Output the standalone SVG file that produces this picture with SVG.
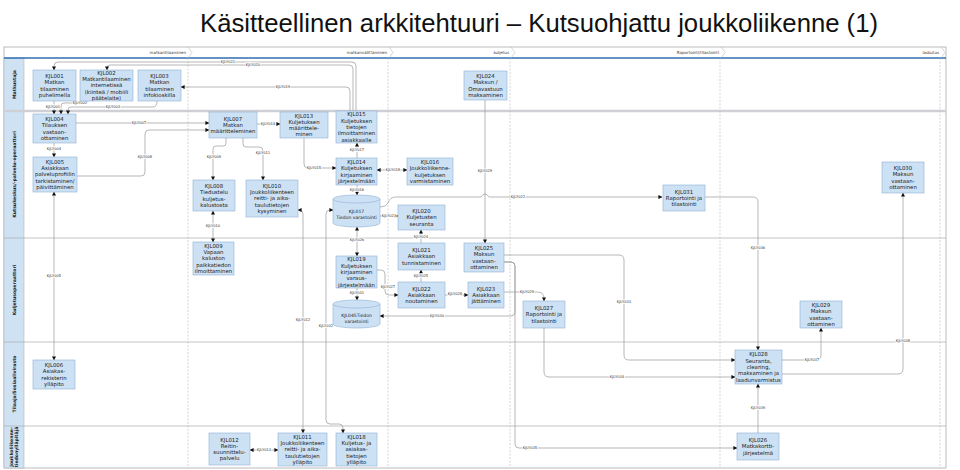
<svg xmlns="http://www.w3.org/2000/svg" width="960" height="470" viewBox="0 0 960 470">
<style>
.nd{fill:#cde1f5;stroke:#8fb0d4;stroke-width:0.6}
.nt{font-family:"DejaVu Sans",Verdana,sans-serif;font-size:5.4px;fill:#1a1a1a;text-anchor:middle}
.ct{font-family:"DejaVu Sans",Verdana,sans-serif;font-size:4.5px;fill:#1a1a1a;text-anchor:middle}
.cn{fill:none;stroke:#9a9a9a;stroke-width:0.7}
.cl{font-family:"DejaVu Sans",Verdana,sans-serif;font-size:3.7px;fill:#333;text-anchor:middle;stroke:#fff;stroke-width:1.6;paint-order:stroke}
.ph{font-family:"DejaVu Sans",Verdana,sans-serif;font-size:4px;fill:#333;text-anchor:end}
.ln{font-family:"DejaVu Sans",Verdana,sans-serif;font-size:4.6px;font-weight:bold;fill:#222;text-anchor:middle}
.dash{stroke:#bbb;stroke-width:0.6;stroke-dasharray:2 1.5}
</style>
<defs>
<marker id="ar" markerUnits="userSpaceOnUse" markerWidth="4" markerHeight="4" refX="3.6" refY="2" orient="auto-start-reverse"><path d="M0,0 L4,2 L0,4 z" fill="#111"/></marker>
</defs>
<rect width="960" height="470" fill="#fff"/>
<text x="539" y="32" font-family="Liberation Sans, Arial, sans-serif" font-size="25" fill="#111" text-anchor="middle" textLength="678" lengthAdjust="spacingAndGlyphs">Käsitteellinen arkkitehtuuri – Kutsuohjattu joukkoliikenne (1)</text>
<g id="frame">
<rect x="4" y="47" width="942" height="421" fill="none" stroke="#aaa" stroke-width="0.8"/>
<rect x="4" y="58" width="20" height="410" fill="#cfe2f3" stroke="#aaa" stroke-width="0.5"/>
<line x1="4" y1="58" x2="946" y2="58" stroke="#2f6fb0" stroke-width="1.4"/>
<line x1="4" y1="111" x2="946" y2="111" stroke="#cfd0d6" stroke-width="2.4"/>
<line x1="4" y1="238" x2="946" y2="238" stroke="#aaa" stroke-width="0.7"/>
<line x1="4" y1="342" x2="946" y2="342" stroke="#aaa" stroke-width="0.7"/>
<line x1="4" y1="426" x2="946" y2="426" stroke="#aaa" stroke-width="0.7"/>
<line class="dash" x1="188" y1="58" x2="188" y2="468"/>
<line class="dash" x1="388" y1="58" x2="388" y2="468"/>
<line class="dash" x1="510" y1="58" x2="510" y2="468"/>
<line class="dash" x1="720" y1="58" x2="720" y2="468"/>
<line class="dash" x1="940" y1="58" x2="940" y2="468"/>
<g fill="none" stroke="#bbb" stroke-width="0.6">
<path d="M188 47 L192 52.5 L188 58"/><path d="M389 47 L393 52.5 L389 58"/><path d="M511 47 L515 52.5 L511 58"/><path d="M721 47 L725 52.5 L721 58"/><path d="M941 47 L945 52.5 L941 58"/>
</g>
<text class="ph" x="186" y="54">matkantilaaminen</text>
<text class="ph" x="387" y="54">matkanvälittäminen</text>
<text class="ph" x="509" y="54">kuljetus</text>
<text class="ph" x="719" y="54">Raportointi/tilastointi</text>
<text class="ph" x="939" y="54">laskutus</text>
<text class="ln" transform="translate(15.5 84.5) rotate(-90)">Matkustaja</text>
<text class="ln" transform="translate(15.5 174.5) rotate(-90)">Kutsukeskus/-palvelu-operaattori</text>
<text class="ln" transform="translate(15.5 290) rotate(-90)">Kuljetusoperaattori</text>
<text class="ln" transform="translate(15.5 384) rotate(-90)">Tilaaja/Sosiaalivirasto</text>
<text class="ln" transform="translate(12.5 447) rotate(-90)">Joukkoliikenne-<tspan x="0" dy="5">tiedonylläpitäjä</tspan></text>
</g>
<g id="connectors">
<path class="cn" marker-end="url(#ar)" d="M54 101 V114"/>
<path class="cn" marker-end="url(#ar)" d="M88 101 Q88 103 85 103 H64 Q61 103 61 106 V114"/>
<path class="cn" marker-end="url(#ar)" d="M157 101 Q157 107 153 107 H71 Q68 107 68 110 V114"/>
<path class="cn" marker-end="url(#ar)" d="M356 111 V66 Q356 62 352 62 H58 Q54 62 54 66 V70"/>
<path class="cn" marker-end="url(#ar)" d="M353 111 V69 Q353 65 349 65 H110 Q107 65 107 68 V70"/>
<path class="cn" marker-end="url(#ar)" d="M350 111 V91 Q350 87 346 87 H181"/>
<path class="cn" marker-end="url(#ar)" d="M54 143 V157"/>
<path class="cn" marker-start="url(#ar)" marker-end="url(#ar)" d="M54 192 V360"/>
<path class="cn" marker-end="url(#ar)" d="M76 123 H209"/>
<path class="cn" marker-end="url(#ar)" d="M77 176 H141 Q145 176 145 172 V134 Q145 130 149 130 H209"/>
<path class="cn" marker-end="url(#ar)" d="M226 138 V143 Q226 146 223 146 H216 Q213 146 213 149 V180"/>
<path class="cn" marker-start="url(#ar)" marker-end="url(#ar)" d="M213 211 V242"/>
<path class="cn" marker-end="url(#ar)" d="M243 138 V144 Q243 147 246 147 H259 Q263 147 263 151 V180"/>
<path class="cn" marker-end="url(#ar)" d="M257 124 H280"/>
<path class="cn" marker-end="url(#ar)" d="M304 138 V164 Q304 168 308 168 H336"/>
<path class="cn" marker-end="url(#ar)" d="M357 158 V143"/>
<path class="cn" marker-start="url(#ar)" marker-end="url(#ar)" d="M377 170 H407"/>
<path class="cn" marker-end="url(#ar)" d="M357 185 V195"/>
<path class="cn" marker-start="url(#ar)" marker-end="url(#ar)" d="M298 210 H299 Q303 210 303 214 V433"/>
<path class="cn" marker-start="url(#ar)" marker-end="url(#ar)" d="M333 210 H330 Q326 210 326 214 V420 Q326 424 330 424 H339 Q343 424 343 428 V433"/>
<path class="cn" marker-end="url(#ar)" d="M380 216 H398"/>
<path class="cn" marker-end="url(#ar)" d="M380 207 Q386 207 388 203 Q390 197 396 197 H481 Q485 191 489 197 H662"/>
<path class="cn" marker-end="url(#ar)" d="M421 243 V230"/>
<path class="cn" marker-end="url(#ar)" d="M421 282 V270"/>
<path class="cn" marker-start="url(#ar)" marker-end="url(#ar)" d="M357 227 V256"/>
<path class="cn" marker-end="url(#ar)" d="M377 270 H381 Q385 270 385 274 V291 Q385 295 389 295 H398"/>
<path class="cn" marker-end="url(#ar)" d="M357 288 V300"/>
<path class="cn" marker-end="url(#ar)" d="M445 295 H468"/>
<path class="cn" marker-end="url(#ar)" d="M485 100 V243"/>
<path class="cn" marker-end="url(#ar)" d="M504 292 H537 Q544 292 544 298 V301"/>
<path class="cn" marker-end="url(#ar)" d="M504 262 H511 Q515 262 515 266 V312 Q515 316 511 316 H380"/>
<path class="cn" marker-end="url(#ar)" d="M504 262 H511 Q515 262 515 266 V444 Q515 448 519 448 H737"/>
<path class="cn" marker-end="url(#ar)" d="M504 255 H619 Q624 255 624 260 V355 Q624 360 629 360 H735"/>
<path class="cn" marker-end="url(#ar)" d="M544 328 V372 Q544 377 549 377 H735"/>
<path class="cn" marker-end="url(#ar)" d="M705 197 H753 Q758 197 758 202 V350"/>
<path class="cn" marker-end="url(#ar)" d="M782 360 H816 Q821 360 821 355 V328"/>
<path class="cn" marker-end="url(#ar)" d="M782 374 H898 Q903 374 903 369 V193"/>
<path class="cn" marker-end="url(#ar)" d="M758 433 V384"/>
<path class="cn" marker-start="url(#ar)" marker-end="url(#ar)" d="M278 450 H250"/>
<text class="cl" x="53" y="108.3">KJLY001</text>
<text class="cl" x="80" y="104">KJLY002</text>
<text class="cl" x="113" y="108.3">KJLY003</text>
<text class="cl" x="228" y="63.3">KJLY021</text>
<text class="cl" x="253" y="66.3">KJLY020</text>
<text class="cl" x="283" y="88.3">KJLY019</text>
<text class="cl" x="54" y="150.3">KJLY004</text>
<text class="cl" x="54" y="277.3">KJLY005</text>
<text class="cl" x="139" y="124.3">KJLY007</text>
<text class="cl" x="145" y="158.3">KJLY008</text>
<text class="cl" x="214" y="158.3">KJLY009</text>
<text class="cl" x="213" y="227.3">KJLY010</text>
<text class="cl" x="263" y="154.3">KJLY011</text>
<text class="cl" x="268" y="125.3">KJLY014</text>
<text class="cl" x="314" y="169.3">KJLY015</text>
<text class="cl" x="357" y="151.3">KJLY017</text>
<text class="cl" x="393" y="171.3">KJLY018</text>
<text class="cl" x="357" y="191.3">KJLY016</text>
<text class="cl" x="303" y="321.3">KJLY012</text>
<text class="cl" x="326" y="327.3">KJLY032</text>
<text class="cl" x="389" y="217.3">KJLY023</text>
<text class="cl" x="518" y="198.3">KJLY022</text>
<text class="cl" x="421" y="238.3">KJLY024</text>
<text class="cl" x="421" y="277.3">KJLY025</text>
<text class="cl" x="357" y="241.3">KJLY026</text>
<text class="cl" x="388" y="288.3">KJLY027</text>
<text class="cl" x="357" y="294.3">KJLY031</text>
<text class="cl" x="455" y="295.3">KJLY028</text>
<text class="cl" x="485" y="172.3">KJLY029</text>
<text class="cl" x="527" y="293.3">KJLY029</text>
<text class="cl" x="437" y="317.3">KJLY030</text>
<text class="cl" x="530" y="449.3">KJLY035</text>
<text class="cl" x="624" y="303.3">KJLY033</text>
<text class="cl" x="617" y="378.3">KJLY034</text>
<text class="cl" x="758" y="249.3">KJLY036</text>
<text class="cl" x="812" y="361.3">KJLY037</text>
<text class="cl" x="903" y="342.3">KJLY038</text>
<text class="cl" x="758" y="409.3">KJLY039</text>
<text class="cl" x="264" y="451.3">KJLY013</text>
</g>
<g id="KJL001"><rect class="nd" x="33" y="70" width="43" height="31"/><text class="nt" x="54.5" y="78">KJL001<tspan x="54.5" dy="6.3">Matkan</tspan><tspan x="54.5" dy="6.3">tilaaminen</tspan><tspan x="54.5" dy="6.3">puhelimella</tspan></text></g>
<g id="KJL002"><rect class="nd" x="80" y="70" width="53" height="31"/><text class="nt" x="106.5" y="74.8">KJL002<tspan x="106.5" dy="6.3">Matkantilaaminen</tspan><tspan x="106.5" dy="6.3">internetissä</tspan><tspan x="106.5" dy="6.3">(kiinteä / mobiili</tspan><tspan x="106.5" dy="6.3">päätelaite)</tspan></text></g>
<g id="KJL003"><rect class="nd" x="138" y="70" width="43" height="31"/><text class="nt" x="159.5" y="78">KJL003<tspan x="159.5" dy="6.3">Matkan</tspan><tspan x="159.5" dy="6.3">tilaaminen</tspan><tspan x="159.5" dy="6.3">infokioskilla</tspan></text></g>
<g id="KJL024"><rect class="nd" x="464" y="71" width="43" height="29"/><text class="nt" x="485.5" y="78">KJL024<tspan x="485.5" dy="6.3">Maksun /</tspan><tspan x="485.5" dy="6.3">Omavastuun</tspan><tspan x="485.5" dy="6.3">maksaminen</tspan></text></g>
<g id="KJL004"><rect class="nd" x="33" y="114" width="43" height="29"/><text class="nt" x="54.5" y="121">KJL004<tspan x="54.5" dy="6.3">Tilauksen</tspan><tspan x="54.5" dy="6.3">vastaan-</tspan><tspan x="54.5" dy="6.3">ottaminen</tspan></text></g>
<g id="KJL005"><rect class="nd" x="33" y="157" width="44" height="35"/><text class="nt" x="55" y="163.8">KJL005<tspan x="55" dy="6.3">Asiakkaan</tspan><tspan x="55" dy="6.3">palveluprofiilin</tspan><tspan x="55" dy="6.3">tarkistaminen/</tspan><tspan x="55" dy="6.3">päivittäminen</tspan></text></g>
<g id="KJL006"><rect class="nd" x="33" y="360" width="42" height="29"/><text class="nt" x="54" y="367">KJL006<tspan x="54" dy="6.3">Asiakas-</tspan><tspan x="54" dy="6.3">rekisterin</tspan><tspan x="54" dy="6.3">ylläpito</tspan></text></g>
<g id="KJL007"><rect class="nd" x="209" y="112" width="48" height="26"/><text class="nt" x="233" y="120.6">KJL007<tspan x="233" dy="6.3">Matkan</tspan><tspan x="233" dy="6.3">määritteleminen</tspan></text></g>
<g id="KJL008"><rect class="nd" x="193" y="180" width="42" height="31"/><text class="nt" x="214" y="188">KJL008<tspan x="214" dy="6.3">Tiedustelu</tspan><tspan x="214" dy="6.3">kuljetus-</tspan><tspan x="214" dy="6.3">kalustosta</tspan></text></g>
<g id="KJL009"><rect class="nd" x="193" y="242" width="41" height="33"/><text class="nt" x="213.5" y="247.8">KJL009<tspan x="213.5" dy="6.3">Vapaan</tspan><tspan x="213.5" dy="6.3">kaluston</tspan><tspan x="213.5" dy="6.3">paikkatiedon</tspan><tspan x="213.5" dy="6.3">ilmoittaminen</tspan></text></g>
<g id="KJL010"><rect class="nd" x="246" y="180" width="52" height="37"/><text class="nt" x="272" y="187.8">KJL010<tspan x="272" dy="6.3">Joukkoliikenteen</tspan><tspan x="272" dy="6.3">reitti- ja aika-</tspan><tspan x="272" dy="6.3">taulutietojen</tspan><tspan x="272" dy="6.3">kysyminen</tspan></text></g>
<g id="KJL011"><rect class="nd" x="278" y="433" width="49" height="33"/><text class="nt" x="302.5" y="438.8">KJL011<tspan x="302.5" dy="6.3">Joukkoliikenteen</tspan><tspan x="302.5" dy="6.3">reitti- ja aika-</tspan><tspan x="302.5" dy="6.3">taulutietojen</tspan><tspan x="302.5" dy="6.3">ylläpito</tspan></text></g>
<g id="KJL012"><rect class="nd" x="209" y="433" width="41" height="32"/><text class="nt" x="229.5" y="441.5">KJL012<tspan x="229.5" dy="6.3">Reitin-</tspan><tspan x="229.5" dy="6.3">suunnittelu-</tspan><tspan x="229.5" dy="6.3">palvelu</tspan></text></g>
<g id="KJL013"><rect class="nd" x="280" y="112" width="48" height="26"/><text class="nt" x="304" y="117.5">KJL013<tspan x="304" dy="6.3">Kuljetuksen</tspan><tspan x="304" dy="6.3">määrittele-</tspan><tspan x="304" dy="6.3">minen</tspan></text></g>
<g id="KJL015"><rect class="nd" x="336" y="111" width="41" height="32"/><text class="nt" x="356.5" y="116.3">KJL015<tspan x="356.5" dy="6.3">Kuljetuksen</tspan><tspan x="356.5" dy="6.3">tietojen</tspan><tspan x="356.5" dy="6.3">ilmoittaminen</tspan><tspan x="356.5" dy="6.3">asiakkaalle</tspan></text></g>
<g id="KJL014"><rect class="nd" x="336" y="158" width="41" height="27"/><text class="nt" x="356.5" y="164">KJL014<tspan x="356.5" dy="6.3">Kuljetuksen</tspan><tspan x="356.5" dy="6.3">kirjaaminen</tspan><tspan x="356.5" dy="6.3">järjestelmään</tspan></text></g>
<g id="KJL016"><rect class="nd" x="407" y="158" width="46" height="27"/><text class="nt" x="430" y="164">KJL016<tspan x="430" dy="6.3">Joukkoliikenne-</tspan><tspan x="430" dy="6.3">kuljetuksen</tspan><tspan x="430" dy="6.3">varmistaminen</tspan></text></g>
<g id="KJL017"><path class="nd" d="M333 199 A23.5 4 0 0 1 380 199 V223 A23.5 4 0 0 1 333 223 Z"/><path fill="none" stroke="#8fb0d4" stroke-width="0.6" d="M333 199 A23.5 4 0 0 0 380 199"/><text class="ct" x="356.5" y="213">KJL017<tspan x="356.5" dy="6">Tiedon varastointi</tspan></text></g>
<g id="KJL020"><rect class="nd" x="398" y="205" width="47" height="25"/><text class="nt" x="421.5" y="213.1">KJL020<tspan x="421.5" dy="6.3">Kuljetusten</tspan><tspan x="421.5" dy="6.3">seuranta</tspan></text></g>
<g id="KJL021"><rect class="nd" x="398" y="243" width="47" height="27"/><text class="nt" x="421.5" y="252.1">KJL021<tspan x="421.5" dy="6.3">Asiakkaan</tspan><tspan x="421.5" dy="6.3">tunnistaminen</tspan></text></g>
<g id="KJL022"><rect class="nd" x="398" y="282" width="47" height="26"/><text class="nt" x="421.5" y="290.6">KJL022<tspan x="421.5" dy="6.3">Asiakkaan</tspan><tspan x="421.5" dy="6.3">noutaminen</tspan></text></g>
<g id="KJL019"><rect class="nd" x="336" y="256" width="41" height="32"/><text class="nt" x="356.5" y="261.3">KJL019<tspan x="356.5" dy="6.3">Kuljetuksen</tspan><tspan x="356.5" dy="6.3">kirjaaminen</tspan><tspan x="356.5" dy="6.3">varaus-</tspan><tspan x="356.5" dy="6.3">järjestelmään</tspan></text></g>
<g id="KJL045"><path class="nd" d="M333 304 A23.5 4 0 0 1 380 304 V324 A23.5 4 0 0 1 333 324 Z"/><path fill="none" stroke="#8fb0d4" stroke-width="0.6" d="M333 304 A23.5 4 0 0 0 380 304"/><text class="ct" x="356.5" y="317">KJL045Tiedon<tspan x="356.5" dy="6">varastointi</tspan></text></g>
<g id="KJL025"><rect class="nd" x="464" y="243" width="40" height="29"/><text class="nt" x="484" y="250">KJL025<tspan x="484" dy="6.3">Maksun</tspan><tspan x="484" dy="6.3">vastaan-</tspan><tspan x="484" dy="6.3">ottaminen</tspan></text></g>
<g id="KJL023"><rect class="nd" x="468" y="282" width="36" height="26"/><text class="nt" x="486" y="290.6">KJL023<tspan x="486" dy="6.3">Asiakkaan</tspan><tspan x="486" dy="6.3">jättäminen</tspan></text></g>
<g id="KJL027"><rect class="nd" x="523" y="301" width="42" height="27"/><text class="nt" x="544" y="310.1">KJL027<tspan x="544" dy="6.3">Raportointi ja</tspan><tspan x="544" dy="6.3">tilastointi</tspan></text></g>
<g id="KJL029"><rect class="nd" x="800" y="301" width="42" height="27"/><text class="nt" x="821" y="307">KJL029<tspan x="821" dy="6.3">Maksun</tspan><tspan x="821" dy="6.3">vastaan-</tspan><tspan x="821" dy="6.3">ottaminen</tspan></text></g>
<g id="KJL030"><rect class="nd" x="882" y="162" width="42" height="31"/><text class="nt" x="903" y="170">KJL030<tspan x="903" dy="6.3">Maksun</tspan><tspan x="903" dy="6.3">vastaan-</tspan><tspan x="903" dy="6.3">ottaminen</tspan></text></g>
<g id="KJL031"><rect class="nd" x="663" y="185" width="42" height="26"/><text class="nt" x="684" y="193.6">KJL031<tspan x="684" dy="6.3">Raportointi ja</tspan><tspan x="684" dy="6.3">tilastointi</tspan></text></g>
<g id="KJL028"><rect class="nd" x="735" y="350" width="47" height="34"/><text class="nt" x="758.5" y="356.3">KJL028<tspan x="758.5" dy="6.3">Seuranta,</tspan><tspan x="758.5" dy="6.3">clearing,</tspan><tspan x="758.5" dy="6.3">maksaminen ja</tspan><tspan x="758.5" dy="6.3">laadunvarmistus</tspan></text></g>
<g id="KJL026"><rect class="nd" x="737" y="433" width="42" height="27"/><text class="nt" x="758" y="442.1">KJL026<tspan x="758" dy="6.3">Matkakortti-</tspan><tspan x="758" dy="6.3">järjestelmä</tspan></text></g>
<g id="KJL018"><rect class="nd" x="336" y="433" width="41" height="33"/><text class="nt" x="356.5" y="438.8">KJL018<tspan x="356.5" dy="6.3">Kuljetus- ja</tspan><tspan x="356.5" dy="6.3">asiakas-</tspan><tspan x="356.5" dy="6.3">tietojen</tspan><tspan x="356.5" dy="6.3">ylläpito</tspan></text></g>
</svg>
